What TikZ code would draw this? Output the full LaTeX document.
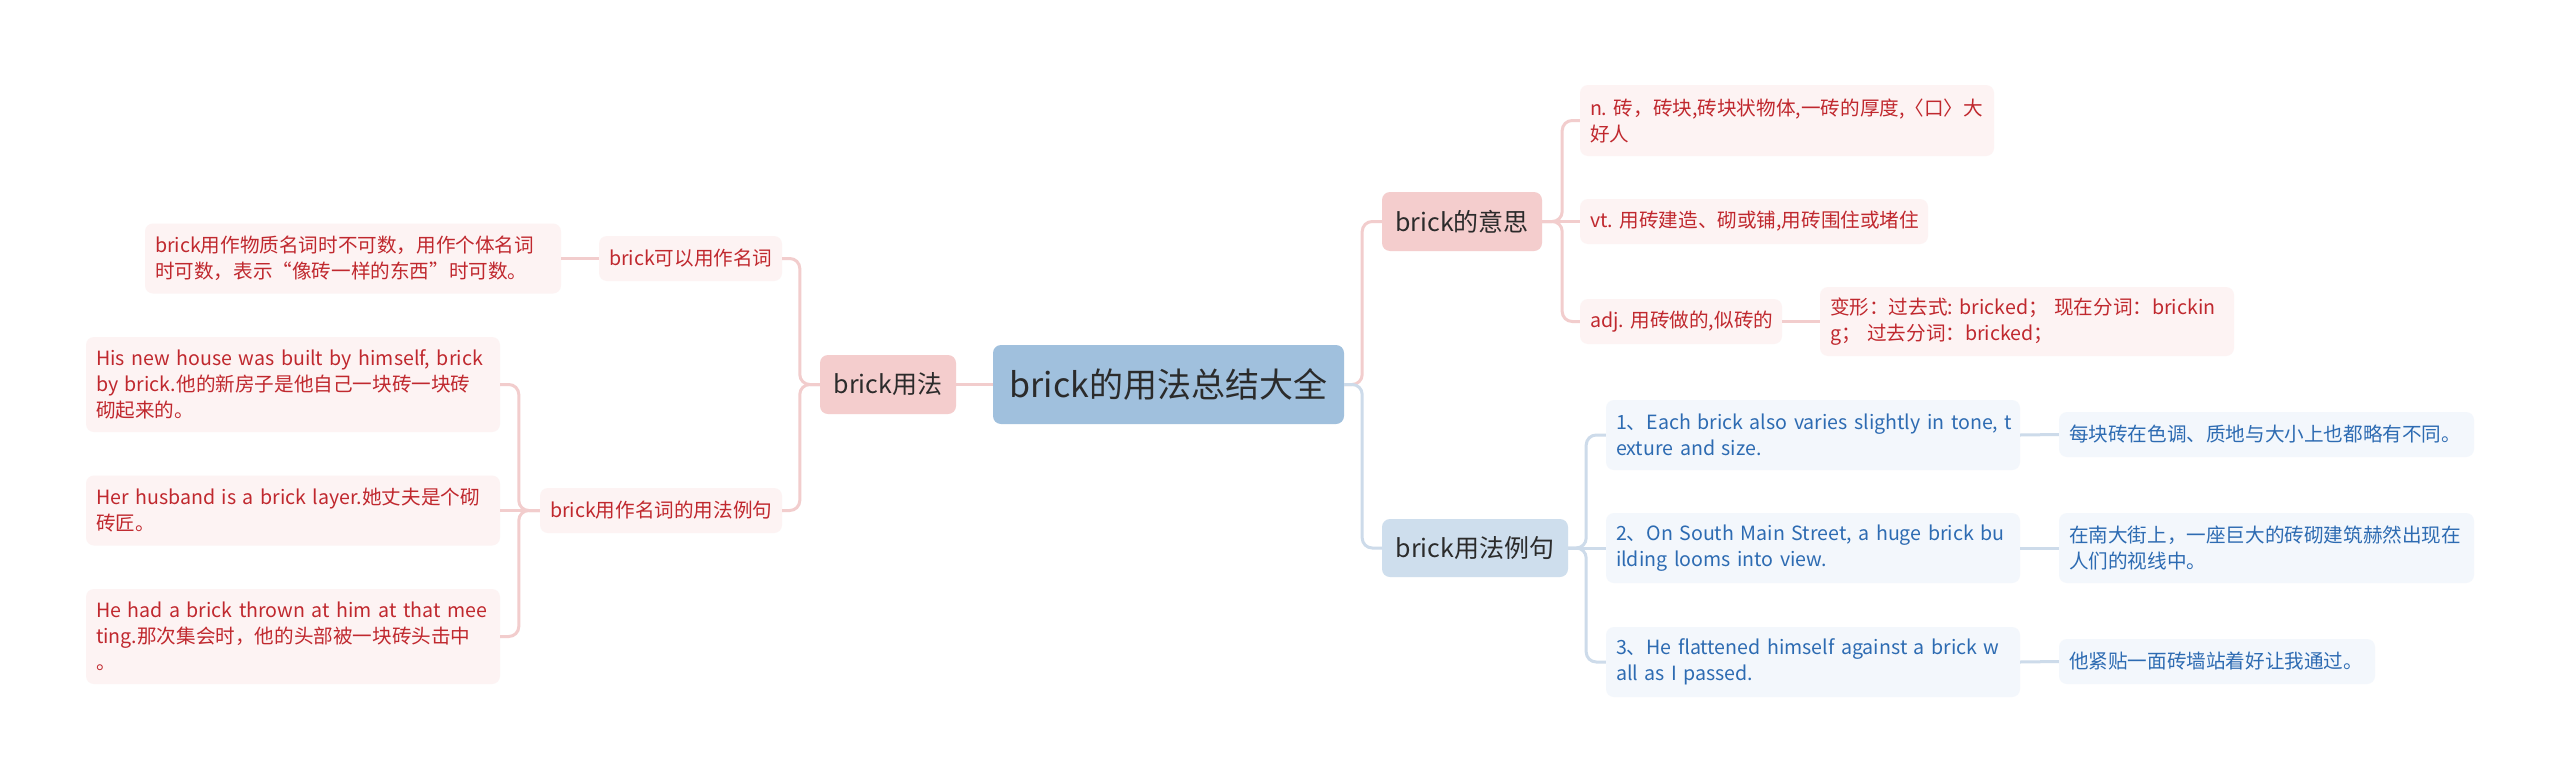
\documentclass[tikz,border=0pt]{standalone}
\usepackage{fontspec}
\setmainfont{Noto Sans CJK SC}
\frenchspacing
\definecolor{cfill}{HTML}{A0C0DD}
\definecolor{pbfill}{HTML}{F4CDCD}
\definecolor{plfill}{HTML}{FDF3F3}
\definecolor{bbfill}{HTML}{CEDEED}
\definecolor{blfill}{HTML}{F3F7FC}
\definecolor{ptext}{HTML}{C0282E}
\definecolor{btext}{HTML}{2D6BB2}
\definecolor{dtext}{HTML}{2B2B2B}
\definecolor{pline}{HTML}{F2CDCD}
\definecolor{bline}{HTML}{CDDBEA}
\newcommand{\oneline}[1]{\mbox{#1}}
\begin{document}
\begin{tikzpicture}[x=1pt,y=-1pt,
  box/.style={rounded corners=8pt, inner xsep=10pt, inner ysep=0pt, align=left},
  leaf/.style={box, font=\fontsize{19.6}{26}\selectfont},
  pleaf/.style={leaf, fill=plfill, text=ptext},
  bleaf/.style={leaf, fill=blfill, text=btext},
  branch/.style={box, inner xsep=0pt, align=center, text=dtext, font=\fontsize{25}{30}\selectfont},
  pbranch/.style={branch, fill=pbfill},
  bbranch/.style={branch, fill=bbfill},
  root/.style={box, inner xsep=0pt, align=center, fill=cfill, text=dtext, font=\fontsize{34}{40}\selectfont},
  plink/.style={draw=pline, line width=3pt, rounded corners=10pt},
  blink/.style={draw=bline, line width=3pt, rounded corners=10pt}]
\useasboundingbox (0,0) rectangle (2560,782);
\fill[white] (0,0) rectangle (2560,782);

% root
\node[root, minimum width=351pt, minimum height=79pt] (c) at (1168.5,384.5) {brick的用法总结大全};

% branches
\node[pbranch, minimum width=136pt, minimum height=59pt] (b1) at (888,384.5) {brick用法};
\node[pbranch, minimum width=160pt, minimum height=59pt] (b2) at (1462,221.5) {brick的意思};
\node[bbranch, minimum width=186pt, minimum height=58pt] (b3) at (1475,548) {brick用法例句};

% left subtree
\node[pleaf, text width=163pt, minimum height=45pt] (l1) at (690.5,258.5) {\oneline{brick可以用作名词}};
\node[pleaf, text width=396pt, minimum height=70pt] (l1a) at (353,258.5) {\oneline{brick用作物质名词时不可数，用作个体名词}\\\oneline{时可数，表示“像砖一样的东西”时可数。}};
\node[pleaf, text width=222pt, minimum height=45pt] (l2) at (661,510.5) {\oneline{brick用作名词的用法例句}};
\node[pleaf, text width=394pt, minimum height=95pt] (l2a) at (293,384.5) {\oneline{His new house was built by himself, brick}\\\oneline{by brick.他的新房子是他自己一块砖一块砖}\\\oneline{砌起来的。}};
\node[pleaf, text width=394pt, minimum height=70pt] (l2b) at (293,510.5) {\oneline{Her husband is a brick layer.她丈夫是个砌}\\\oneline{砖匠。}};
\node[pleaf, text width=394pt, minimum height=95pt] (l2c) at (293,636.5) {\oneline{He had a brick thrown at him at that mee}\\\oneline{ting.那次集会时，他的头部被一块砖头击中}\\\oneline{。}};

% right upper subtree
\node[pleaf, text width=394pt, minimum height=71pt] (r1) at (1787,120.5) {\oneline{n. 砖，砖块,砖块状物体,一砖的厚度,〈口〉大}\\\oneline{好人}};
\node[pleaf, text width=328pt, minimum height=45pt] (r2) at (1754,221.5) {\oneline{vt. 用砖建造、砌或铺,用砖围住或堵住}};
\node[pleaf, text width=182pt, minimum height=45pt] (r3) at (1681,321.5) {\oneline{adj. 用砖做的,似砖的}};
\node[pleaf, text width=394pt, minimum height=69pt] (r3a) at (2027,321.5) {\oneline{变形：过去式: bricked；\ 现在分词：brickin}\\\oneline{g；\ 过去分词：bricked；}};

% right lower subtree
\node[bleaf, text width=394pt, minimum height=70pt] (s1) at (1813,435) {\oneline{1、Each brick also varies slightly in tone, t}\\\oneline{exture and size.}};
\node[bleaf, text width=394pt, minimum height=70pt] (s2) at (1813,548) {\oneline{2、On South Main Street, a huge brick bu}\\\oneline{ilding looms into view.}};
\node[bleaf, text width=394pt, minimum height=70pt] (s3) at (1813,662) {\oneline{3、He flattened himself against a brick w}\\\oneline{all as I passed.}};
\node[bleaf, text width=395pt, minimum height=45pt] (s1a) at (2266.5,434.5) {\oneline{每块砖在色调、质地与大小上也都略有不同。}};
\node[bleaf, text width=395pt, minimum height=70pt] (s2a) at (2266.5,548) {\oneline{在南大街上，一座巨大的砖砌建筑赫然出现在}\\\oneline{人们的视线中。}};
\node[bleaf, text width=296pt, minimum height=45pt] (s3a) at (2217,661.5) {\oneline{他紧贴一面砖墙站着好让我通过。}};

% connectors
\draw[plink] (c.west) -- (b1.east);
\draw[plink] (c.east) -- ++(18,0) |- (b2.west);
\draw[blink] (c.east) -- ++(18,0) |- (b3.west);

\draw[plink] (b1.west) -- ++(-20,0) |- (l1.east);
\draw[plink] (b1.west) -- ++(-20,0) |- (l2.east);
\draw[plink] (l1.west) -- (l1a.east);
\draw[plink] (l2.west) -- ++(-21,0) |- (l2a.east);
\draw[plink] (l2.west) -- (l2b.east);
\draw[plink] (l2.west) -- ++(-21,0) |- (l2c.east);

\draw[plink] (b2.east) -- ++(20,0) |- (r1.west);
\draw[plink] (b2.east) -- (r2.west);
\draw[plink] (b2.east) -- ++(20,0) |- (r3.west);
\draw[plink] (r3.east) -- (r3a.west);

\draw[blink] (b3.east) -- ++(18,0) |- (s1.west);
\draw[blink] (b3.east) -- (s2.west);
\draw[blink] (b3.east) -- ++(18,0) |- (s3.west);
\draw[blink] (s1.east) -- (s1a.west);
\draw[blink] (s2.east) -- (s2a.west);
\draw[blink] (s3.east) -- (s3a.west);
\end{tikzpicture}
\end{document}
